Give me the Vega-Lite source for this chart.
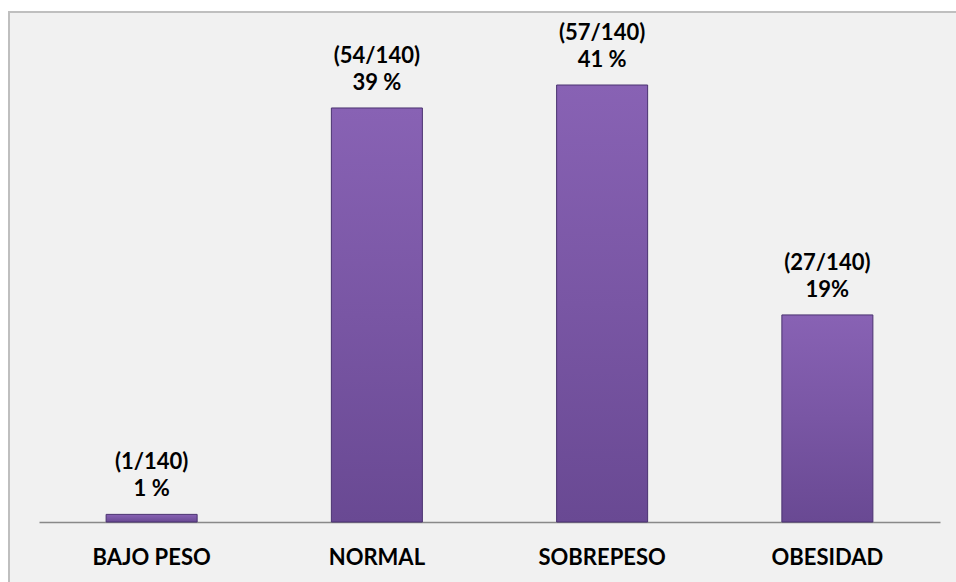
{
  "$schema": "https://vega.github.io/schema/vega-lite/v6.json",
  "autosize": "none",
  "width": 952,
  "height": 580,
  "padding": {"left": 9, "top": 12, "right": 0, "bottom": 0},
  "background": "#ffffff",
  "config": {
    "view": {"fill": "#f1f1f1", "stroke": "#bfbfbf", "strokeWidth": 2},
    "font": "Lato"
  },
  "data": {
    "values": [
      {"categoria": "BAJO PESO", "n": 1, "pct": 0.71, "label": "(1/140)\n1 %"},
      {"categoria": "NORMAL", "n": 54, "pct": 38.57, "label": "(54/140)\n39 %"},
      {"categoria": "SOBREPESO", "n": 57, "pct": 40.71, "label": "(57/140)\n41 %"},
      {"categoria": "OBESIDAD", "n": 27, "pct": 19.29, "label": "(27/140)\n19%"}
    ]
  },
  "encoding": {
    "x": {
      "field": "categoria",
      "type": "nominal",
      "sort": null,
      "scale": {"range": [30, 931], "paddingInner": 0.596, "paddingOuter": 0.298},
      "axis": {
        "title": null,
        "labelAngle": 0,
        "ticks": false,
        "offset": -70,
        "domainColor": "#898989",
        "domainWidth": 1.5,
        "labelFont": "Lato",
        "labelFontWeight": "bold",
        "labelFontSize": 22,
        "labelColor": "#000000",
        "labelPadding": 25,
        "labelBaseline": "top"
      }
    },
    "y": {
      "field": "pct",
      "type": "quantitative",
      "scale": {"domain": [0, 40.71], "range": [510, 73], "nice": false, "zero": true},
      "axis": null
    }
  },
  "layer": [
    {
      "mark": {
        "type": "bar",
        "stroke": "#4a3270",
        "strokeWidth": 1,
        "color": {
          "x1": 0, "y1": 0, "x2": 0, "y2": 1,
          "gradient": "linear",
          "stops": [
            {"offset": 0, "color": "#8862b4"},
            {"offset": 0.5, "color": "#7956a4"},
            {"offset": 1, "color": "#694993"}
          ]
        }
      }
    },
    {
      "mark": {
        "type": "text",
        "lineBreak": "\n",
        "baseline": "alphabetic",
        "dy": -45,
        "font": "Lato",
        "fontWeight": "bold",
        "fontSize": 22,
        "lineHeight": 27,
        "color": "#000000"
      },
      "encoding": {"text": {"field": "label"}}
    }
  ]
}
